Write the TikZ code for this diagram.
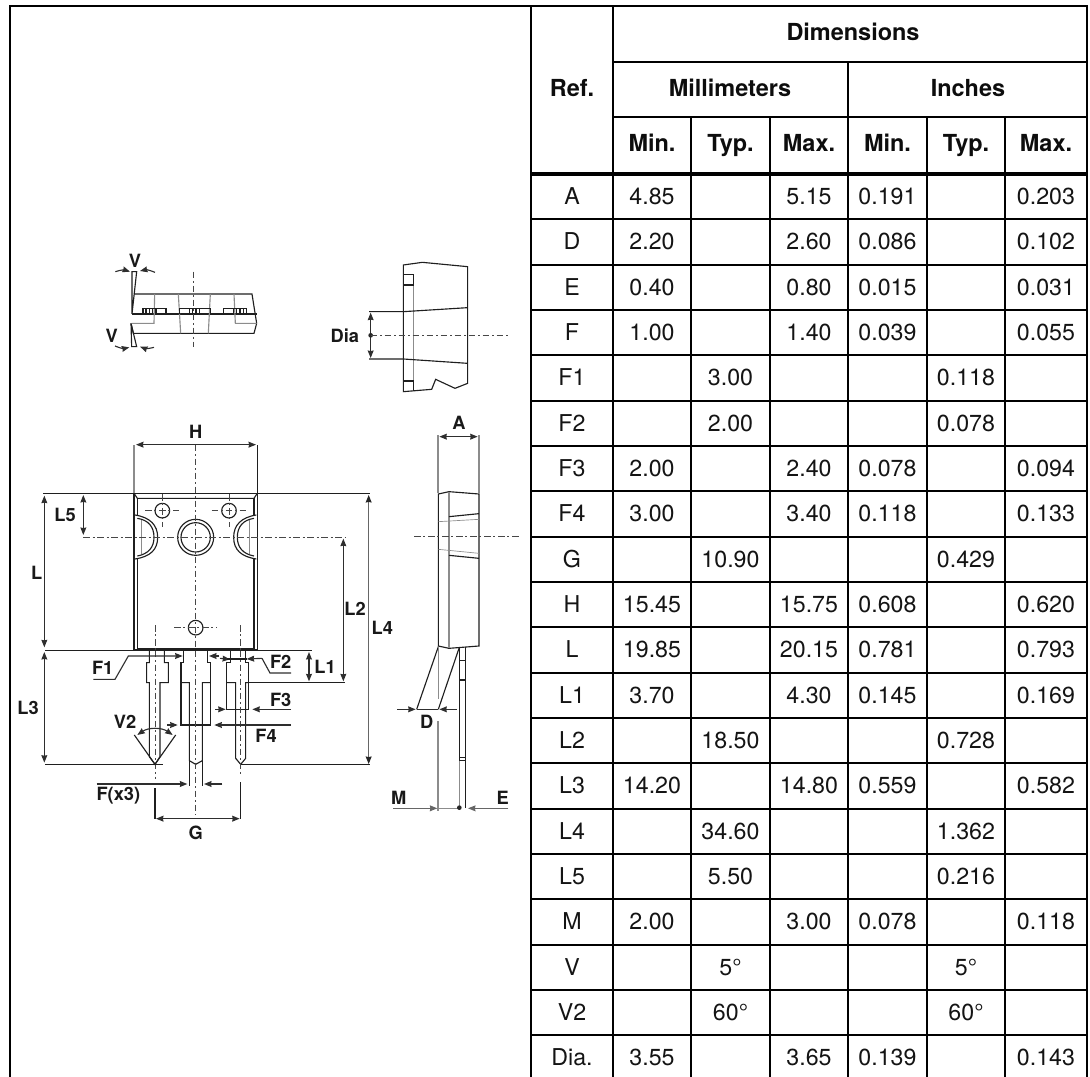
\documentclass[tikz,border=0pt]{standalone}
\usepackage{fontspec}
\setmainfont{TeX Gyre Heros}
\usetikzlibrary{arrows.meta}
\tikzset{
  ln/.style={line width=0.85pt,draw=black!88},
  gl/.style={line width=0.85pt,draw=black!45},
  cl/.style={line width=0.75pt,draw=black!72,dash pattern=on 5pt off 2pt on 1.5pt off 2pt},
  dim/.style={line width=0.85pt,draw=black!82,>={Stealth[length=5.6pt,width=4.4pt,inset=0.4pt]}},
  lab/.style={inner sep=0pt,font=\fontsize{13.7}{14}\selectfont\bfseries,text=black!90},
  tbl/.style={line width=1.5pt,draw=black},
  tbb/.style={line width=3.2pt,draw=black},
  cellr/.style={inner sep=0pt,anchor=base,font=\fontsize{17.4}{18}\selectfont,text=black!92},
  cellb/.style={inner sep=0pt,anchor=base,font=\fontsize{17.6}{18}\selectfont\bfseries,text=black!95},
}
\newcommand{\tcell}[3]{\ifx#3\empty\else\node[cellr] at (#1,#2+8) {#3};\fi}
\begin{document}
\begin{tikzpicture}[x=0.75pt,y=-0.75pt]
\useasboundingbox (0,0) rectangle (1090,1077);

% ---------- table ----------
\draw[tbl] (10,1077) -- (10,6) -- (1087,6) -- (1087,1077);
\draw[tbl] (531,6) -- (531,1077);
\draw[tbl] (613,6) -- (613,1077);
\draw[tbl] (613,62) -- (1087,62);
\draw[tbl] (613,117.5) -- (1087,117.5);
\draw[tbl] (848,62) -- (848,1077);
\draw[tbl] (691,117.5) -- (691,1077);
\draw[tbl] (770,117.5) -- (770,1077);
\draw[tbl] (927,117.5) -- (927,1077);
\draw[tbl] (1005,117.5) -- (1005,1077);
\draw[tbb] (531,174) -- (1087,174);
\foreach \k in {1,...,19}{\draw[tbl] (531,174+\k*45.33) -- (1087,174+\k*45.33);}
\node[cellb] (hdim) at (853,41) {Dimensions};
\node[cellb] (href) at (572,97) {Ref.};
\node[cellb] (hmm) at (730,97) {Millimeters};
\node[cellb] (hin) at (968,97) {Inches};
\foreach \cx/\t [count=\i] in {652/Min.,730.5/Typ.,809/Max.,887.5/Min.,966/Typ.,1046/Max.}{
  \node[cellb] (hc\i) at (\cx,152) {\t};
}
\foreach \r/\a/\b/\c/\d/\e/\f [count=\k from 0] in {
 A/4.85//5.15/0.191//0.203,
 D/2.20//2.60/0.086//0.102,
 E/0.40//0.80/0.015//0.031,
 F/1.00//1.40/0.039//0.055,
 F1//3.00///0.118/,
 F2//2.00///0.078/,
 F3/2.00//2.40/0.078//0.094,
 F4/3.00//3.40/0.118//0.133,
 G//10.90///0.429/,
 H/15.45//15.75/0.608//0.620,
 L/19.85//20.15/0.781//0.793,
 L1/3.70//4.30/0.145//0.169,
 L2//18.50///0.728/,
 L3/14.20//14.80/0.559//0.582,
 L4//34.60///1.362/,
 L5//5.50///0.216/,
 M/2.00//3.00/0.078//0.118,
 V//5°///5°/,
 V2//60°///60°/,
 Dia./3.55//3.65/0.139//0.143}{
  \pgfmathsetmacro{\yc}{174+(\k+0.5)*45.33}
  \tcell{572}{\yc}{\r}
  \tcell{652}{\yc}{\a}
  \tcell{730.5}{\yc}{\b}
  \tcell{809}{\yc}{\c}
  \tcell{887.5}{\yc}{\d}
  \tcell{966}{\yc}{\e}
  \tcell{1046}{\yc}{\f}
}

% ---------- top view ----------
\begin{scope}[shift={(30,240)},x=0.25pt,y=-0.25pt]
\draw[ln] (306,222) -- (306,95) -- (320,95) -- (306,222);
\draw[ln] (312,162) -- (666,162) -- (680,250) -- (672,280) -- (310,280) -- (303,250);
\draw[ln] (303,250) -- (305,320) -- (320,320) -- (303,250);
\draw[ln] (306,222) -- (680,222);
\draw[gl] (374,162) -- (372,250) -- (305,250);
\draw[gl] (445,162) -- (452,280);
\draw[gl] (541,162) -- (535,280);
\draw[gl] (612,162) -- (616,250) -- (680,250);
\draw[ln] (339,222) -- (339,205) -- (408,205) -- (408,222);
\draw[ln] (448,222) -- (448,205) -- (541,205) -- (541,222);
\draw[ln] (580,222) -- (580,205) -- (650,205) -- (650,222);
\foreach \p in {348,358,368,378,478,488,498,508,610,620,630,640}{\draw[ln] (\p,205) -- (\p,222);}
\draw[cl] (491,95) -- (491,322);
\draw[dim,->] (256,95) to[bend left=18] (300,95);
\draw[dim,->] (375,97) to[bend right=18] (330,93);
\draw[dim,->] (255,318) to[bend right=18] (298,322);
\draw[dim,->] (372,322) to[bend left=18] (330,320);
\node[lab] (lv1) at (315,62) {V};
\node[lab] (lv2) at (245,288) {V};
\end{scope}

% ---------- Dia view ----------
\begin{scope}[shift={(340,250)},x=0.25pt,y=-0.25pt]
\draw[ln] (190,45) -- (247,37) -- (383,50) -- (383,400) -- (345,415) -- (287,388) -- (275,418) -- (190,425) -- cycle;
\draw[gl] (220,73) -- (220,422);
\draw[ln] (190,73) -- (220,73) -- (220,105) -- (190,105);
\draw[ln] (190,393) -- (220,393) -- (220,423);
\draw[ln] (87,185) -- (190,185) -- (383,173);
\draw[ln] (87,327) -- (190,327) -- (383,340);
\draw[dim,<->] (92,188) -- (92,324);
\fill[black!85] (92,256) circle (7);
\draw[cl] (92,256) -- (505,256);
\node[lab,anchor=east] (ldia) at (58,258) {Dia};
\end{scope}

% ---------- front view, upper ----------
\begin{scope}[shift={(30,410)},x=0.25pt,y=-0.25pt]
\draw[ln] (40,250) -- (1020,250);
\draw[gl] (312,105) -- (312,250);
\draw[ln] (682,105) -- (682,250);
\draw[ln] (312,250) -- (312,722);
\draw[ln] (682,250) -- (682,722);
\draw[ln] (312,250) -- (322,265) -- (672,265) -- (682,250);
\draw[ln] (322,265) -- (322,315);
\draw[ln] (672,265) -- (672,315);
\draw[ln] (322,447) -- (322,716) -- (672,716) -- (672,447);
\draw[ln] (312,720) -- (682,720);
\draw[ln] (315,315) .. controls (360,322) and (383,345) .. (383,382) .. controls (383,420) and (360,440) .. (315,447);
\draw[ln] (322,325) .. controls (355,330) and (372,350) .. (372,382) .. controls (372,412) and (355,432) .. (322,438);
\draw[ln] (679,315) .. controls (634,322) and (611,345) .. (611,382) .. controls (611,420) and (634,440) .. (679,447);
\draw[ln] (672,325) .. controls (639,330) and (622,350) .. (622,382) .. controls (622,412) and (639,432) .. (672,438);
\draw[gl] (335,330) -- (335,432);
\draw[gl] (659,330) -- (659,432);
\draw[ln] (497,382) circle (54);
\draw[ln] (497,382) circle (44);
\draw[ln] (397,302) circle (22);
\draw[ln] (597,302) circle (22);
\draw[ln] (497,653) circle (22);
\draw[cl] (345,302) -- (448,302);
\draw[cl] (397,252) -- (397,352);
\draw[cl] (545,302) -- (648,302);
\draw[cl] (597,252) -- (597,352);
\draw[cl] (432,653) -- (560,653);
\draw[cl] (497,104) -- (497,720);
\draw[cl] (160,382) -- (945,382);
\draw[cl] (375,645) -- (375,720);
\draw[cl] (632,645) -- (632,720);
\draw[dim,<->] (318,104) -- (678,104);
\draw[dim,<->] (43,257) -- (43,712);
\draw[dim,<->] (160,255) -- (160,375);
\node[lab] (lh) at (497,65) {H};
\node[lab] (ll5) at (105,315) {L5};
\node[lab] (ll) at (20,490) {L};
\end{scope}

% ---------- L1 L2 L4 ----------
\begin{scope}[shift={(260,480)},x=0.25pt,y=-0.25pt]
\draw[ln] (-40,512) -- (157,512);
\draw[ln] (-36,608) -- (255,608);
\draw[dim,<->] (147,516) -- (147,604);
\draw[dim,<->] (250,176) -- (250,604);
\draw[gl,draw=black!60,<->,>={Stealth[length=5.6pt,width=4.4pt,inset=0.4pt,black!85]}] (326,45) -- (326,852);
\node[lab] (ll1) at (195,562) {L1};
\node[lab] (ll2) at (285,388) {L2};
\node[lab] (ll4) at (367,445) {L4};
\node[lab] (lf2) at (62,547) {F2};
\node[lab] (lf3) at (62,660) {F3};
\end{scope}

% ---------- leads ----------
\begin{scope}[shift={(30,640)},x=0.25pt,y=-0.25pt]
\draw[ln] (45,32) -- (680,32);
% left lead
\draw[ln] (358,32) -- (358,68) -- (350,68) -- (350,128) -- (358,128) -- (358,350) -- (375,373) -- (390,350) -- (390,128) -- (415,128) -- (415,68) -- (403,68) -- (403,32);
\draw[cl] (375,32) -- (375,418);
% middle lead
\draw[ln] (460,32) -- (460,68) -- (453,68) -- (453,255) -- (541,255) -- (541,68) -- (533,68) -- (533,32);
\draw[ln] (453,128) -- (478,128) -- (478,362) -- (497,373) -- (517,362) -- (517,128) -- (541,128);
\draw[ln] (478,362) -- (478,438);
\draw[ln] (517,362) -- (517,438);
\draw[cl] (497,32) -- (497,525);
% right lead
\draw[ln] (602,32) -- (602,68) -- (590,68) -- (590,208) -- (655,208) -- (655,68) -- (647,68) -- (647,32);
\draw[ln] (590,128) -- (617,128) -- (617,355) -- (632,373) -- (647,355) -- (647,128) -- (655,128);
\draw[cl] (632,32) -- (632,403);
% F1
\draw[dim,->] (190,118) -- (255,118) -- (295,48) -- (458,48);
% F2
\draw[dim,->] (567,48) -- (537,48);
\draw[dim,->] (570,55) -- (600,58);
\draw[ln] (590,57) -- (650,57);
\draw[dim,->] (696,55) -- (650,57);
\draw[dim] (696,55) -- (720,99) -- (783,99);
% F3
\draw[dim,->] (555,208) -- (587,208);
\draw[dim,->] (783,208) -- (667,208);
% F4
\draw[dim,->] (411,255) -- (443,255);
\draw[dim,->] (783,255) -- (553,255);
% bottom line
\draw[ln] (45,373) -- (400,373);
\draw[ln] (632,373) -- (1020,373);
% L3
\draw[dim,<->] (43,36) -- (43,368);
% V2
\draw[ln] (313,285) -- (375,373) -- (437,285);
\draw[dim,<->] (322,285) .. controls (355,262) and (395,262) .. (428,285);
% F(x3)
\draw[dim,->] (200,432) -- (472,432);
\draw[dim,->] (577,432) -- (522,432);
% G
\draw[ln] (375,445) -- (375,536);
\draw[ln] (632,427) -- (632,536);
\draw[dim,<->] (378,536) -- (629,536);
\node[lab] (lf1) at (218,85) {F1};
\node[lab] (lf4) at (708,287) {F4};
\node[lab] (lfx) at (265,467) {F(x3)};
\node[lab] (lg) at (497,580) {G};
\node[lab] (lv2b) at (285,245) {V2};
\node[lab] (ll3) at (-6,205) {L3};
\end{scope}

% ---------- side profile ----------
\begin{scope}[shift={(400,410)},x=0.25pt,y=-0.25pt]
\draw[gl] (114,75) -- (114,250);
\draw[gl] (237,75) -- (237,250);
\draw[dim,<->] (118,80) -- (233,80);
\node[lab] (la) at (177,38) {A};
\draw[ln] (115,252) -- (147,245) -- (237,252) -- (237,708) -- (147,715) -- (115,708) -- cycle;
\draw[gl] (147,245) -- (147,715);
\draw[ln] (147,320) -- (237,311);
\draw[gl,line width=0.5pt] (115,335) -- (237,328);
\draw[gl,line width=0.5pt] (115,418) -- (237,430);
\draw[ln] (147,436) -- (237,445);
\draw[cl] (42,378) -- (357,378);
\end{scope}

\begin{scope}[shift={(400,640)},x=0.25pt,y=-0.25pt]
\draw[ln] (178,22) -- (178,362);
\draw[gl] (178,362) -- (178,505);
\draw[ln] (196,22) -- (196,505);
\draw[ln] (178,62) -- (196,62);
\draw[ln] (178,120) -- (196,120);
\draw[ln] (178,352) -- (196,352);
\draw[ln] (178,362) -- (196,362);
\draw[ln] (115,20) -- (50,208);
\draw[ln] (178,22) -- (115,208);
\draw[gl] (115,20) -- (115,178);
\draw[dim,->] (-8,208) -- (47,208);
\draw[dim] (50,208) -- (115,208);
\draw[dim,->] (170,208) -- (118,208);
\node[lab] (ld) at (80,245) {D};
\draw[gl] (114,243) -- (114,512);
\draw[dim,->,draw=black!60] (-21,505) -- (112,505);
\draw[gl] (114,505) -- (178,505);
\fill[black!85] (178,503) circle (7);
\draw[dim,->,draw=black!60] (325,505) -- (204,505);
\node[lab] (le) at (308,475) {E};
\node[lab,anchor=east] (lm) at (20,475) {M};
\end{scope}
\end{tikzpicture}
\end{document}
